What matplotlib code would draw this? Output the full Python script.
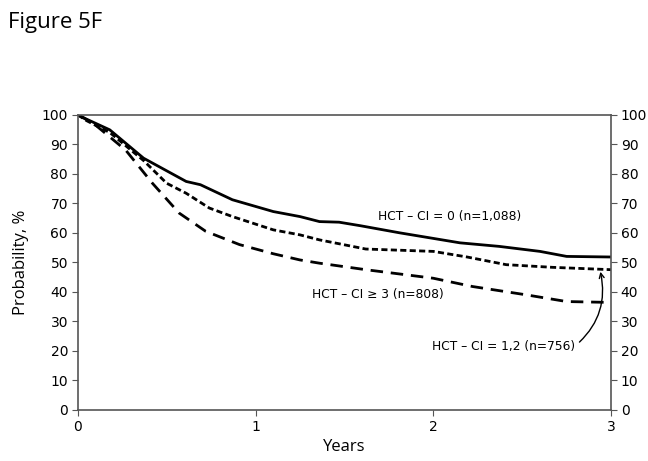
import matplotlib
matplotlib.use("Agg")
from matplotlib import pyplot as plt

# survival estimates (years, %)
t0 = [0, 0.05, 0.18, 0.37, 0.61, 0.69, 0.87, 1.10, 1.25, 1.36, 1.47, 1.59, 1.81, 2.15, 2.37, 2.60, 2.75, 3.0]
s0 = [100, 98.5, 94.9, 85.3, 77.4, 76.3, 71.2, 67.2, 65.5, 63.8, 63.6, 62.4, 60.0, 56.6, 55.4, 53.7, 52.0, 51.8]

t12 = [0, 0.05, 0.18, 0.37, 0.50, 0.61, 0.74, 0.87, 1.10, 1.25, 1.36, 1.62, 2.0, 2.19, 2.41, 2.67, 3.0]
s12 = [100, 98.0, 94.0, 84.5, 76.8, 73.4, 68.4, 65.5, 61.0, 59.3, 57.6, 54.5, 53.7, 51.8, 49.2, 48.3, 47.5]

t3 = [0, 0.09, 0.18, 0.27, 0.42, 0.57, 0.72, 0.91, 1.10, 1.25, 1.36, 1.62, 2.0, 2.22, 2.52, 2.75, 3.0]
s3 = [100, 97.0, 92.5, 88.0, 76.8, 66.7, 60.5, 56.0, 52.9, 50.8, 49.7, 47.5, 44.6, 41.8, 39.0, 36.7, 36.4]

yticks = list(range(0, 101, 10))
xticks = [0, 1, 2, 3]

fig = plt.figure(figsize=(6.48, 4.61), dpi=100)
ax = fig.add_axes([0.120, 0.111, 0.823, 0.640])

ax.plot(t0, s0, color="black", lw=2.0, ls="-")
ax.plot(t12, s12, color="black", lw=2.0, ls=(0, (2.2, 1.2)))
ax.plot(t3, s3, color="black", lw=2.0, ls=(0, (4.5, 2.8)))

ax.set_xlim(0, 3)
ax.set_ylim(0, 100)
ax.set_xticks(xticks)
ax.set_yticks(yticks)
ax.tick_params(axis="both", direction="out", length=4, color="#555555",
               labelsize=10, pad=3, right=True, labelright=True)
for sp in ax.spines.values():
    sp.set_color("#555555")
    sp.set_linewidth(1.2)

ax.set_xlabel("Years", fontsize=12, family="Open Sans")
ax.set_ylabel("Probability, %", fontsize=12, family="Open Sans", labelpad=9)

ax.text(1.69, 65.5, "HCT – CI = 0 (n=1,088)", fontsize=8.8, va="center")
ax.text(1.32, 39.0, "HCT – CI ≥ 3 (n=808)", fontsize=8.8, va="center")
ax.annotate("HCT – CI = 1,2 (n=756)", xy=(2.94, 46.8), xytext=(1.99, 21.5),
            fontsize=8.8, va="center",
            arrowprops=dict(arrowstyle="->", color="black", lw=1,
                            shrinkA=2, shrinkB=0,
                            connectionstyle="arc3,rad=0.3",
                            relpos=(1.0, 0.5)))

fig.text(0.012, 0.975, "Figure 5F", fontsize=16, family="Open Sans", va="top")

fig.savefig("out.png", dpi=100)
